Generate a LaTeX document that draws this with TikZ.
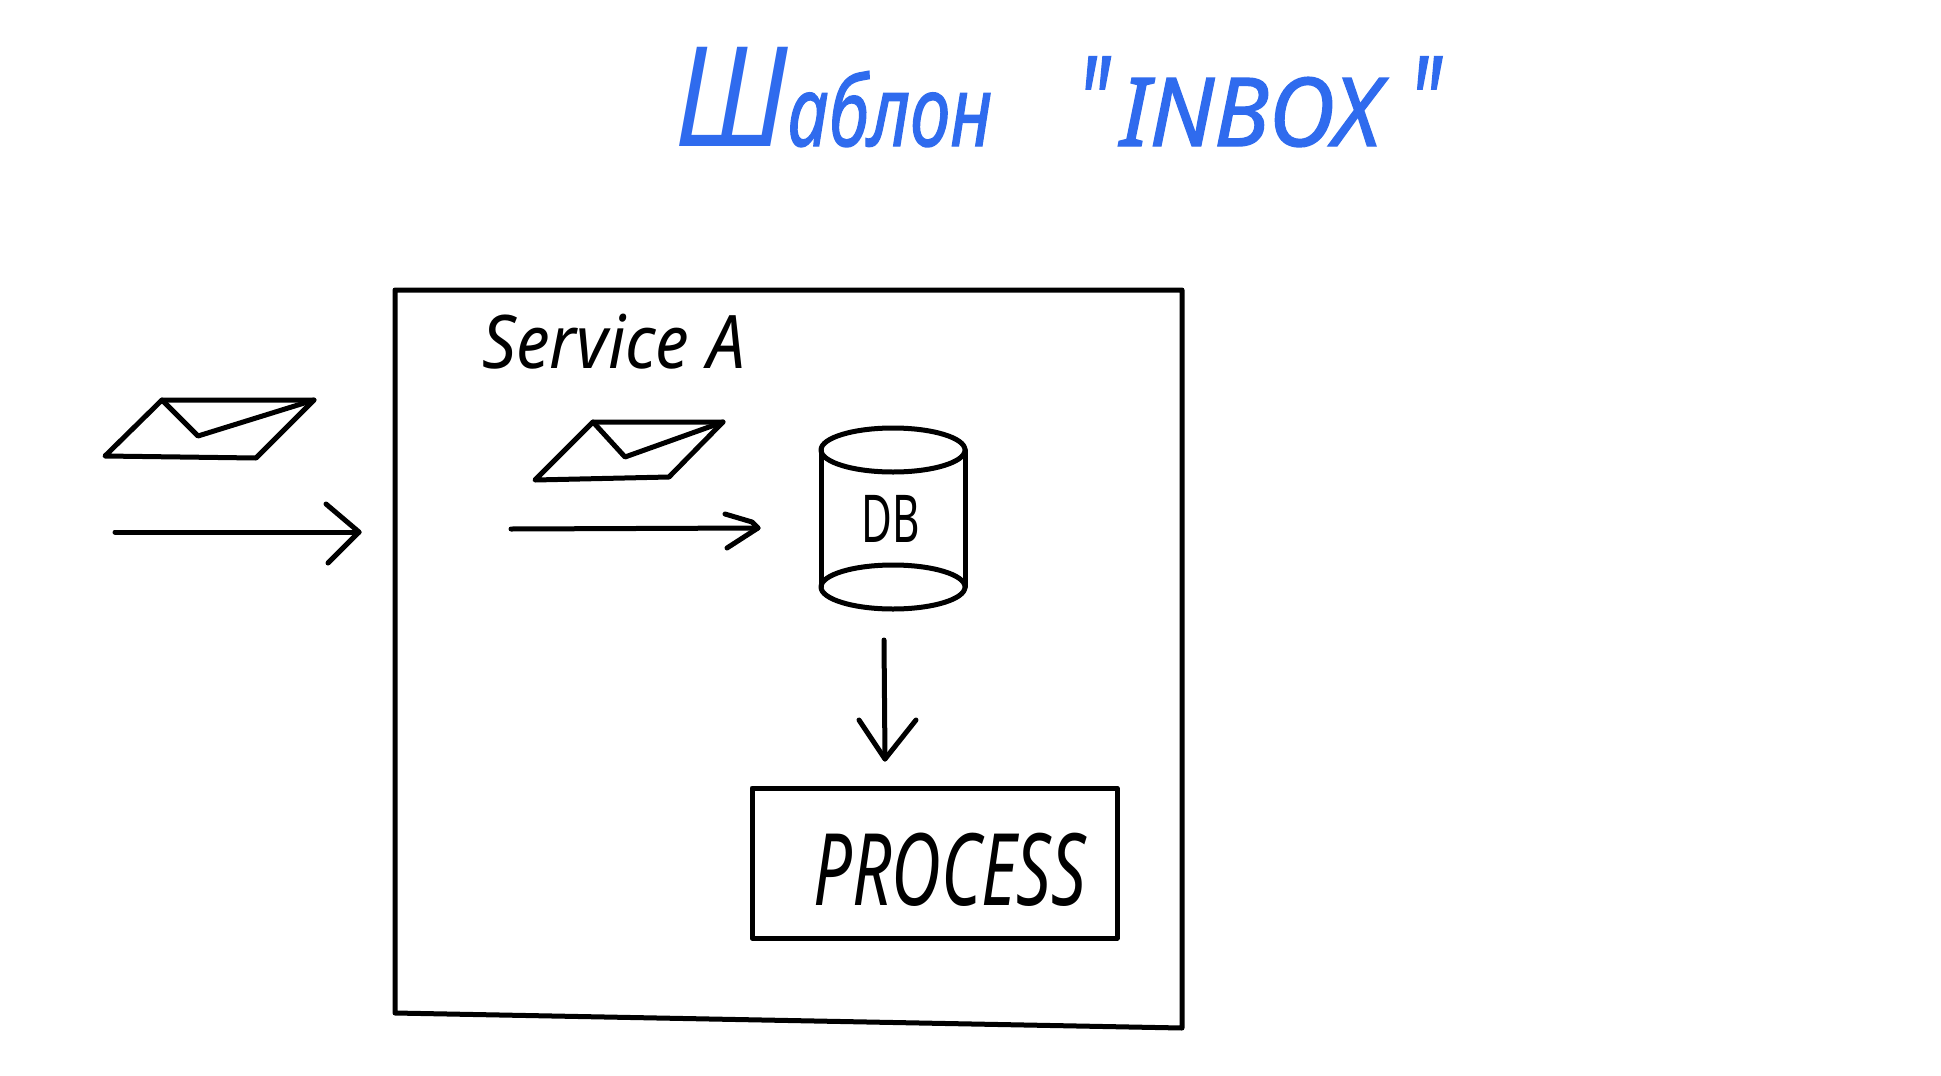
\documentclass[tikz,border=0pt]{standalone}
\usepackage{fontspec}
\setmainfont{Noto Sans}
\newfontfamily\handfont[ItalicFont=* Italic]{Noto Sans}
\newfontfamily\boldhand[ItalicFont=* Italic,ItalicFeatures={FakeBold=1.5}]{Noto Sans}
\definecolor{inkblue}{HTML}{2F6BEE}
\tikzset{
  ink/.style={draw=black,line width=5pt,line cap=round,line join=round},
  label/.style={inner sep=0pt,text=black},
  titletext/.style={inner sep=0pt,text=inkblue}
}
\begin{document}
\begin{tikzpicture}[x=1pt,y=-1pt]
\useasboundingbox[fill=white] (0,0) rectangle (1941,1076);
% title
\node[titletext,anchor=base west] (title1) at (675,146) {\itshape
  {\handfont\itshape\scalebox{0.85}[1]{\fontsize{139}{139}\selectfont Ш}}{\boldhand\itshape\scalebox{0.74}[1]{\fontsize{98}{98}\selectfont аблон}}};
\node[titletext,anchor=base west] (title2) at (1077,146) {\boldhand\itshape
  \scalebox{0.65}[1]{\fontsize{125}{125}\selectfont "}\hspace{11pt}\scalebox{0.96}[1]{\fontsize{95}{95}\selectfont INBOX}\hspace{28pt}\scalebox{0.65}[1]{\fontsize{125}{125}\selectfont "}};
% service box
\draw[ink] (395,290) -- (1182,290) -- (1182,1028) -- (395,1013) -- cycle;
\node[label,anchor=base west] (service) at (482,368) {\handfont\itshape\scalebox{0.91}[1]{\fontsize{74}{74}\selectfont Service A}};
% outside envelope
\coordinate (ea) at (105,456); \coordinate (eb) at (162,400);
\coordinate (ec) at (314,400); \coordinate (ed) at (256,458);
\coordinate (ef) at (198,436);
\draw[ink] (ea) -- (eb) -- (ec) -- (ed) -- cycle;
\draw[ink] (eb) -- (ef) -- (ec);
% inner envelope
\coordinate (ia) at (535,480); \coordinate (ib) at (593,422);
\coordinate (ic) at (723,422); \coordinate (id) at (669,477);
\coordinate (if) at (625,457);
\draw[ink] (ia) -- (ib) -- (ic) -- (id) -- cycle;
\draw[ink] (ib) -- (if) -- (ic);
% arrow 1
\coordinate (a1s) at (115,532); \coordinate (a1e) at (359,532);
\coordinate (a1u) at (326,504); \coordinate (a1d) at (328,563);
\draw[ink] (a1s) -- (a1e);
\draw[ink] (a1u) -- (a1e) -- (a1d);
% db
\coordinate (dbtop) at (893,450);
\coordinate (dbbot) at (893,587);
\draw[ink] (dbtop) ellipse [x radius=72,y radius=22];
\draw[ink] (dbbot) ellipse [x radius=72,y radius=22];
\draw[ink] (821,450) -- (821,587);
\draw[ink] (965,450) -- (965,587);
\node[label] (db) at (891,519) {\handfont\scalebox{0.64}[1]{\fontsize{66}{66}\selectfont DB}};
% arrow 2
\coordinate (a2s) at (511,529); \coordinate (a2e) at (758,528);
\coordinate (a2u) at (725,514); \coordinate (a2m) at (752,522);
\coordinate (a2d) at (727,548);
\draw[ink] (a2s) -- (a2e);
\draw[ink] (a2u) -- (a2m) -- (a2e) -- (a2d);
% process
\node[draw=black,line width=5pt,line join=round,outer sep=0pt,minimum width=365pt,minimum height=150pt,anchor=north west,inner sep=0pt] (procbox) at (752,788) {};
\node[label,anchor=base west] (proctext) at (813,905) {\handfont\itshape\scalebox{0.687}[1]{\fontsize{100}{100}\selectfont PROCESS}};
% arrow 3
\coordinate (a3s) at (884,640); \coordinate (a3e) at (885,759);
\coordinate (a3l) at (859,720); \coordinate (a3r) at (916,720);
\draw[ink] (a3s) -- (a3e);
\draw[ink] (a3l) -- (a3e) -- (a3r);
\end{tikzpicture}
\end{document}
